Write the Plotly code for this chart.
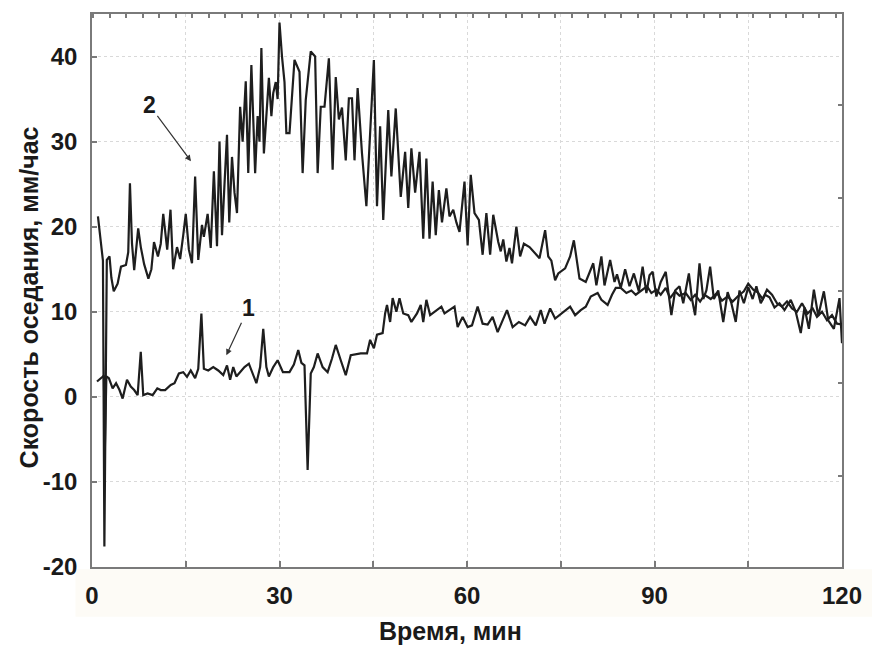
import plotly.graph_objects as go

# Sedimentation rate vs. time for two samples (digitised readings)
# Curve 2 (upper)
t2 = [0.95, 1.47, 1.75, 1.98, 2.37, 2.8, 3.1, 3.48, 4.1, 4.64, 5.43, 5.8, 6.07, 6.4, 6.75,
      7.39, 7.81, 8.34, 9.02, 9.5, 9.92, 10.55, 11.0, 11.4, 12.03, 12.56, 12.98, 13.6, 14.1,
      14.6, 15.0, 15.5, 16.0, 16.5, 17.0, 17.6, 17.9, 18.5, 19.0, 19.5, 20.0, 20.4, 20.8,
      21.2, 21.6, 21.96, 22.4, 22.8, 23.2, 23.7, 24.1, 24.6, 25.0, 25.5, 26.1, 26.5, 26.8,
      27.1, 27.5, 28.3, 28.7, 29.0, 29.4, 29.7, 30.0, 30.4, 30.8, 31.1, 31.6, 32.4, 33.2,
      33.7, 34.2, 35.0, 35.7, 36.1, 36.6, 37.2, 37.9, 38.5, 39.0, 39.5, 40.0, 40.6, 41.1,
      41.6, 42.0, 42.5, 43.2, 43.9, 44.6, 45.1, 45.6, 46.1, 46.6, 47.4, 47.9, 48.6, 49.4,
      50.1, 50.6, 51.1, 51.7, 52.4, 53.0, 53.5, 54.0, 54.5, 55.0, 55.5, 56.0, 56.7, 57.2,
      57.8, 58.3, 58.8, 59.6, 60.1, 60.6, 61.2, 61.9, 62.5, 63.1, 63.7, 64.2, 65.0, 65.4,
      65.8, 66.3, 66.8, 67.2, 67.9, 68.5, 69.1, 70.0, 70.9, 71.6, 72.5, 73.0, 73.5, 74.1,
      74.6, 75.7, 76.5, 77.1, 78.0, 79.0, 80.2, 80.7, 81.5, 82.0, 82.9, 83.6, 84.0, 84.6,
      85.3, 86.0, 86.7, 87.5, 88.1, 88.7, 89.2, 89.7, 90.3, 91.0, 91.8, 92.3, 92.7, 93.3,
      94.0, 94.6, 95.5, 96.0, 96.5, 97.2, 97.8, 98.3, 98.9, 99.5, 100.2, 101.0, 101.7,
      102.3, 103.0, 103.6, 104.3, 105.0, 105.7, 106.3, 107.0, 107.7, 108.4, 109.2, 110.0,
      110.8, 111.8, 112.6, 113.4, 114.0, 114.7, 115.5, 116.2, 117.1, 117.8, 118.7, 119.3,
      119.6, 120.0]
v2 = [21.2, 17.3, 16.0, -17.6, 16.1, 16.5, 14.0, 12.4, 13.3, 15.3, 15.5, 17.0, 25.1, 18.0, 14.9,
      19.8, 17.6, 15.6, 13.9, 15.0, 18.2, 16.5, 18.0, 21.5, 17.3, 22.0, 15.0, 17.6, 16.2,
      19.0, 21.5, 17.3, 15.7, 25.9, 16.1, 20.2, 18.8, 21.5, 17.5, 26.5, 17.7, 30.0, 19.0,
      25.0, 30.8, 20.5, 28.2, 24.0, 21.6, 34.1, 30.0, 37.1, 26.3, 39.0, 26.3, 33.0, 30.0,
      41.0, 28.6, 37.5, 33.0, 35.7, 37.0, 35.0, 44.0, 40.0, 37.0, 31.0, 31.0, 39.6, 38.2,
      26.3, 34.9, 40.6, 40.0, 26.3, 34.1, 34.1, 39.8, 26.7, 37.6, 32.6, 34.0, 27.8, 35.1,
      35.1, 27.8, 36.3, 28.6, 22.4, 31.8, 39.6, 22.4, 31.8, 20.8, 33.7, 25.9, 33.9, 23.5,
      28.8, 22.2, 29.2, 24.0, 28.8, 18.6, 28.0, 18.6, 25.3, 19.0, 24.3, 20.5, 24.5, 21.2,
      22.0, 20.5, 19.4, 25.3, 17.8, 26.1, 21.6, 20.8, 16.7, 21.6, 16.7, 21.4, 18.2, 17.1,
      18.5, 15.9, 17.5, 15.7, 20.0, 16.5, 18.0, 17.6, 16.9, 16.3, 19.6, 16.5, 16.0, 13.7,
      14.5, 15.1, 16.5, 18.4, 13.9, 13.5, 15.7, 13.1, 16.5, 13.1, 16.1, 13.5, 14.4, 12.8,
      15.0, 13.0, 14.5, 12.4, 15.3, 12.2, 14.3, 14.7, 11.8, 13.5, 14.7, 12.0, 9.6, 12.5,
      13.0, 11.0, 14.5, 11.5, 9.6, 15.7, 11.5, 12.5, 15.3, 11.5, 12.5, 8.8, 12.3,
      11.0, 8.8, 12.5, 11.0, 12.9, 11.5, 13.0, 11.0, 12.0, 11.7, 10.5, 11.0,
      10.2, 11.4, 10.0, 7.5, 10.5, 8.0, 12.6, 9.5, 12.4, 9.0, 8.0, 10.5,
      11.6, 6.3]

# Curve 1 (lower)
t1 = [0.8, 1.2, 1.6, 1.9, 2.05, 2.3, 2.7, 3.3, 3.85, 4.4, 4.9, 5.6, 6.2, 6.75, 7.3, 7.8, 8.2,
      8.9, 9.7, 10.45, 11.0, 11.7, 12.6, 13.2, 13.9, 14.6, 15.2, 15.8, 16.5, 17.0, 17.5, 17.9,
      18.6, 19.4, 20.2, 21.0, 21.6, 22.1, 22.6, 23.1, 23.9, 24.4, 25.1, 25.6, 26.3, 26.9,
      27.4, 27.9, 28.3, 29.0, 29.7, 30.55, 31.6, 32.3, 33.0, 33.5, 34.0, 34.5, 35.0, 35.5,
      36.1, 36.9, 37.7, 38.4, 39.0, 39.8, 40.6, 41.4, 42.2, 43.0, 44.0, 44.5, 45.1, 45.6,
      46.5, 46.9, 47.2, 47.7, 48.1, 48.7, 49.2, 49.8, 50.6, 51.1, 52.0, 52.6, 53.0, 53.5,
      54.1, 55.1, 55.9, 56.4, 57.2, 58.0, 58.5, 59.3, 60.1, 60.8, 61.7, 62.5, 63.3, 64.1,
      64.9, 65.7, 66.4, 67.3, 68.3, 69.3, 70.1, 71.0, 71.8, 72.4, 73.3, 74.1, 75.1, 76.5,
      77.3, 78.2, 79.0, 79.8, 80.9, 81.5, 82.5, 83.2, 83.8, 84.6, 85.5, 86.3, 87.0, 88.0,
      88.8, 89.5, 90.3, 91.0, 91.8, 92.5, 93.3, 94.0, 95.0, 95.8, 96.5, 97.3, 98.0, 99.0,
      100.0, 100.8, 101.7, 102.5, 103.3, 104.3, 105.0, 105.8, 106.5, 107.3, 108.0, 108.8,
      109.6, 110.4, 111.2, 112.0, 112.8, 113.6, 114.5, 115.3, 116.0, 116.8, 117.6, 118.4,
      119.2, 120.0]
v1 = [1.8, 2.0, 2.3, 2.5, -6.3, 2.4, 2.2, 1.0, 1.6, 0.8, -0.2, 2.0, 1.2, 0.8, 0.2, 5.3, 0.2,
      0.4, 0.2, 1.0, 0.8, 0.8, 1.4, 1.6, 2.75, 2.9, 2.35, 3.1, 2.2, 3.3, 9.8, 3.3,
      3.1, 3.5, 3.1, 2.55, 3.7, 2.0, 3.5, 2.4, 3.1, 3.5, 3.9, 2.9, 1.6, 3.5,
      8.0, 3.5, 2.4, 3.5, 4.3, 2.9, 2.9, 3.8, 5.5, 4.0, 3.7, -8.6, 2.75, 3.5,
      5.1, 3.5, 2.9, 4.5, 6.1, 4.3, 2.55, 4.9, 5.0, 5.1, 5.1, 6.7, 5.7, 7.3,
      7.5, 9.8, 10.8, 8.8, 11.6, 10.0, 11.6, 9.8, 9.6, 8.8, 9.8, 10.8, 8.8, 11.4,
      9.6, 10.2, 10.6, 9.8, 10.2, 10.6, 8.2, 9.4, 8.2, 8.4, 10.6, 8.6, 8.5, 9.4,
      7.6, 9.0, 10.2, 8.2, 8.8, 8.4, 9.4, 8.4, 10.2, 8.6, 10.4, 9.2, 9.8, 10.6,
      9.6, 10.2, 10.6, 11.8, 12.2, 11.4, 10.8, 12.0, 12.8, 12.8, 12.2, 12.5, 12.0, 12.6,
      13.0, 12.2, 12.6, 12.0, 12.8, 11.6, 12.4, 11.9, 12.2, 11.4, 12.0, 11.2, 12.0, 11.5,
      12.2, 11.3, 11.8, 11.2, 11.8, 12.4, 13.3, 12.6, 12.3, 11.5, 12.6, 12.0,
      11.0, 10.6, 11.2, 10.4, 10.0, 11.0, 9.8, 10.4, 9.4, 10.0, 9.0, 9.6,
      8.6, 8.5]

x_ticks = [0, 30, 60, 90, 120]
y_ticks = [-20, -10, 0, 10, 20, 30, 40]

FONT = "Liberation Sans, Arial, sans-serif"
INK = "#1a1a1a"
AXIS = "#7a7a7a"
GRID = "#d9d9d9"

fig = go.Figure()
for tx, vy in ((t2, v2), (t1, v1)):
    fig.add_trace(go.Scatter(x=tx, y=vy, mode="lines",
                             line=dict(color="#1e1e1e", width=2.2),
                             hoverinfo="skip", showlegend=False))

# carrier for the secondary (top/right) tick axes
fig.add_trace(go.Scatter(x=[0, 120], y=[-20, 45], mode="none", xaxis="x2", yaxis="y2",
                         hoverinfo="skip", showlegend=False))

tickfont = dict(family=FONT, size=24, color=INK, weight="bold")

fig.update_layout(
    width=874, height=646,
    margin=dict(l=92, r=24, t=13, b=79),
    paper_bgcolor="white", plot_bgcolor="white",
    showlegend=False,
    xaxis=dict(range=[0, 120], tickvals=x_ticks, ticktext=[str(v) for v in x_ticks],
               ticks="inside", ticklen=6, tickwidth=1.5,
               tickcolor=AXIS, showline=True, linecolor=AXIS, linewidth=1.5, mirror=True,
               showgrid=True, gridcolor=GRID, griddash="dot", gridwidth=1, zeroline=False,
               tickfont=tickfont, ticklabelstandoff=6,
               minor=dict(tick0=0, dtick=15, ticks="inside", ticklen=6, tickwidth=1.5,
                          tickcolor=AXIS, showgrid=True, gridcolor=GRID, griddash="dot")),
    yaxis=dict(range=[-20, 45], tickvals=y_ticks, ticktext=[str(v) for v in y_ticks],
               ticks="inside", ticklen=5, tickwidth=1.5,
               tickcolor=AXIS, showline=True, linecolor=AXIS, linewidth=1.5, mirror=True,
               showgrid=True, gridcolor=GRID, griddash="dot", gridwidth=1, zeroline=False,
               tickfont=tickfont, ticklabelstandoff=8),
    xaxis2=dict(overlaying="x", side="top", range=[0, 120], tick0=2.85, dtick=2.64,
                ticks="inside", ticklen=4, tickwidth=1.5, tickcolor=AXIS,
                showticklabels=False, showgrid=False, zeroline=False, showline=False),
    yaxis2=dict(overlaying="y", side="right", range=[-20, 45], tick0=1.6, dtick=10.9,
                ticks="inside", ticklen=4, tickwidth=1.5, tickcolor=AXIS,
                showticklabels=False, showgrid=False, zeroline=False, showline=False),
)

# faint band behind the x tick labels
fig.add_shape(type="rect", xref="paper", yref="paper", x0=-0.022, x1=1.04, y0=-0.09, y1=-0.004,
              line=dict(width=0), fillcolor="#fdfbf6", layer="below")

fig.add_annotation(text="Время, мин", xref="paper", yref="paper", x=0.478, y=-0.1155,
                   xanchor="center", yanchor="middle", showarrow=False,
                   font=dict(family=FONT, size=25, color=INK, weight="bold"))
fig.add_annotation(text="Скорость оседания, мм/час", xref="paper", yref="paper",
                   x=-0.0844, y=0.487, textangle=-90, xanchor="center", yanchor="middle",
                   showarrow=False, font=dict(family=FONT, size=25, color=INK, weight="bold"))

# curve labels with pointers
for lab, ax_, ay_, hx, hy in (("2", 9.18, 34.3, 15.83, 27.7), ("1", 25.0, 10.4, 21.5, 4.9)):
    fig.add_annotation(text=lab, x=hx, y=hy, ax=ax_, ay=ay_, xref="x", yref="y",
                       axref="x", ayref="y", showarrow=True, arrowhead=2, arrowsize=1,
                       arrowwidth=1.2, arrowcolor="#333333", standoff=0,
                       font=dict(family=FONT, size=23, color=INK, weight="bold"))

fig.write_html("out.html")
